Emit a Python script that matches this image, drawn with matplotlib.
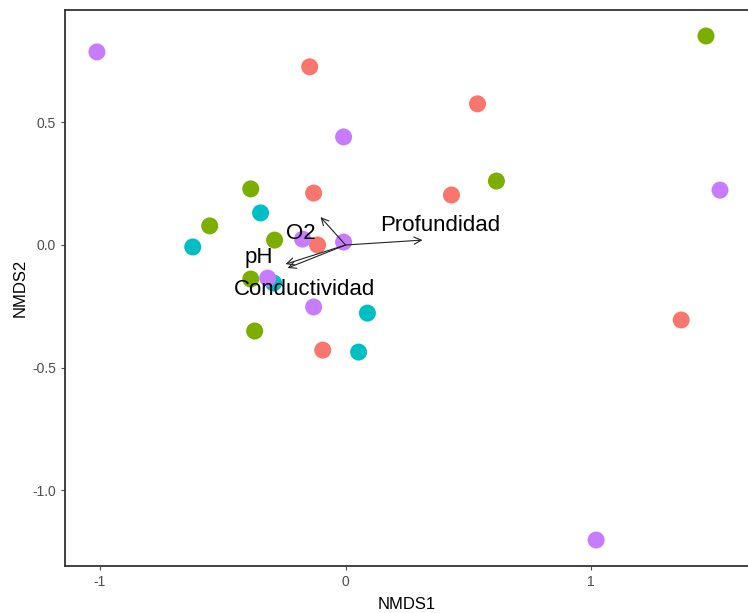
import matplotlib.pyplot as plt
import numpy as np

plt.rcParams['font.family'] = ['Liberation Sans', 'DejaVu Sans']

# site scores (NMDS1, NMDS2) per group
grupo_a_x = [-0.146, 0.537, -0.13, 0.431, -0.114, 1.366, -0.093]
grupo_a_y = [0.727, 0.576, 0.212, 0.204, 0.0, -0.306, -0.429]

grupo_b_x = [1.467, 0.614, -0.386, -0.553, -0.289, -0.386, -0.37]
grupo_b_y = [0.853, 0.261, 0.229, 0.078, 0.020, -0.139, -0.351]

grupo_c_x = [-0.346, -0.622, -0.293, 0.089, 0.053]
grupo_c_y = [0.131, -0.008, -0.155, -0.278, -0.437]

grupo_d_x = [-1.012, -0.008, 1.524, -0.175, -0.008, -0.317, -0.13, 1.02]
grupo_d_y = [0.788, 0.441, 0.224, 0.024, 0.012, -0.135, -0.253, -1.204]

# environmental vectors
variables = ['Profundidad', 'O2', 'pH', 'Conductividad']
vec_x = [0.313, -0.102, -0.244, -0.236]
vec_y = [0.02, 0.114, -0.078, -0.094]
etiq_x = [0.386, -0.183, -0.354, -0.167]
etiq_y = [0.08, 0.045, -0.053, -0.18]

colores = ['#F8766D', '#7CAE00', '#00BFC4', '#C77CFF']

fig = plt.figure(figsize=(7.48, 6.13), dpi=100)
ax = fig.add_axes([65/748, 47/613, 1 - 65/748, 556/613])

grupos = [(grupo_a_x, grupo_a_y), (grupo_b_x, grupo_b_y),
          (grupo_c_x, grupo_c_y), (grupo_d_x, grupo_d_y)]
for (gx, gy), c in zip(grupos, colores):
    ax.scatter(gx, gy, s=150, c=c, edgecolors='none', zorder=2)

for vx, vy in zip(vec_x, vec_y):
    ax.annotate('', xy=(vx, vy), xytext=(0, 0),
                arrowprops=dict(arrowstyle='->', color='#222222', lw=0.8,
                                shrinkA=0, shrinkB=0, mutation_scale=13),
                zorder=3)

for nombre, tx, ty in zip(variables, etiq_x, etiq_y):
    ax.text(tx, ty, nombre, fontsize=16, ha='center', va='center',
            color='black', zorder=4)

ax.set_xlim(-1.142, 1.638)
ax.set_ylim(-1.31, 0.959)
ax.set_xticks([-1, 0, 1])
ax.set_xticklabels(['-1', '0', '1'])
ax.set_yticks([-1.0, -0.5, 0.0, 0.5])
ax.set_yticklabels(['-1.0', '-0.5', '0.0', '0.5'])

ax.spines['right'].set_visible(False)
for s in ['left', 'bottom', 'top']:
    ax.spines[s].set_linewidth(1.3)
    ax.spines[s].set_color('#333333')

ax.tick_params(colors='#4D4D4D', labelsize=10, length=3, width=0.8)
ax.set_xlabel('NMDS1', fontsize=12, labelpad=6)
ax.set_ylabel('NMDS2', fontsize=12, labelpad=3)

fig.savefig('out.png', dpi=100)
